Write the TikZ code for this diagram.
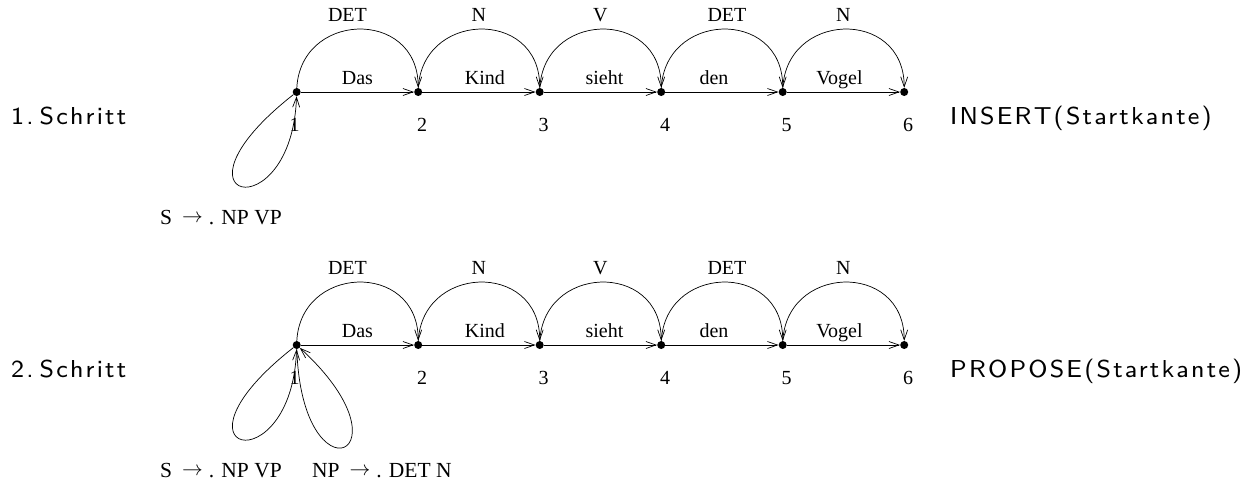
\documentclass[tikz,border=0pt]{standalone}
\usepackage{fontspec}
\newfontfamily\tms{Liberation Serif}
\newfontfamily\sss{lmsans8-regular.otf}[LetterSpace=9]
\usetikzlibrary{arrows.meta}
\newcommand{\rarr}{\hspace{10pt}\raisebox{2pt}{$\rightarrow$}\hspace{6pt}}
\begin{document}
\begin{tikzpicture}[x=1pt,y=-1pt,
  dot/.style={circle,fill,inner sep=0pt,minimum size=8pt},
  edge/.style={-{Straight Barb[length=10pt,width=7pt]}, line width=0.7pt},
  lab/.style={font=\tms\fontsize{20}{20}\selectfont, inner sep=0pt},
  rulelab/.style={font=\tms\fontsize{21.5}{21.5}\selectfont, inner sep=0pt, anchor=base west},
  big/.style={font=\sss\fontsize{24.5}{24.5}\selectfont, inner sep=0pt, anchor=base west}]
\useasboundingbox (0,0) rectangle (1250,483);
\foreach \r/\y/\sn/\act in {a/92/1/INSERT, b/345/2/PROPOSE} {
  \foreach \i in {1,...,6}
    \node[dot] (\r\i) at ({296.7+121.5*(\i-1)},\y) {};
  \foreach \i/\j/\w/\c/\dw/\dc in {1/2/Das/DET/0/-10, 2/3/Kind/N/6/0, 3/4/sieht/V/4/0, 4/5/den/DET/-8/5, 5/6/Vogel/N/-4/0} {
    \draw[edge] (\r\i) -- (\r\j) node[lab, midway, anchor=base, yshift=8pt, xshift=\dw pt]{\w};
    \draw[edge] (\r\i.center) to[out=90,in=90,looseness=1.7] node[lab, midway, anchor=base, yshift=8pt, xshift=\dc pt]{\c} (\r\j.north);
  }
  \foreach \i in {2,...,6}
    \node[lab, anchor=base] (\r n\i) at ({300.7+121.5*(\i-1)},\y+39) {\i};
  \node[lab, anchor=base] (\r n1) at (294.5,\y+39) {1};
  \draw[edge] (\r1) .. controls +(-140,110) and +(-5,140) .. (\r1);
  \node[big] (\r step) at (11,\y+32) {\sn.\hspace{6pt}Schritt};
  \node[big] (\r act) at (950,\y+32) {\act(Startkante)};
  \node[rulelab] (\r rule1) at (160,\y+132) {S\rarr. NP VP};
}
\draw[edge] (b1) .. controls +(5,160) and +(120,110) .. (b1);
\node[rulelab] (brule2) at (312,477) {NP\rarr. DET N};
\end{tikzpicture}
\end{document}
